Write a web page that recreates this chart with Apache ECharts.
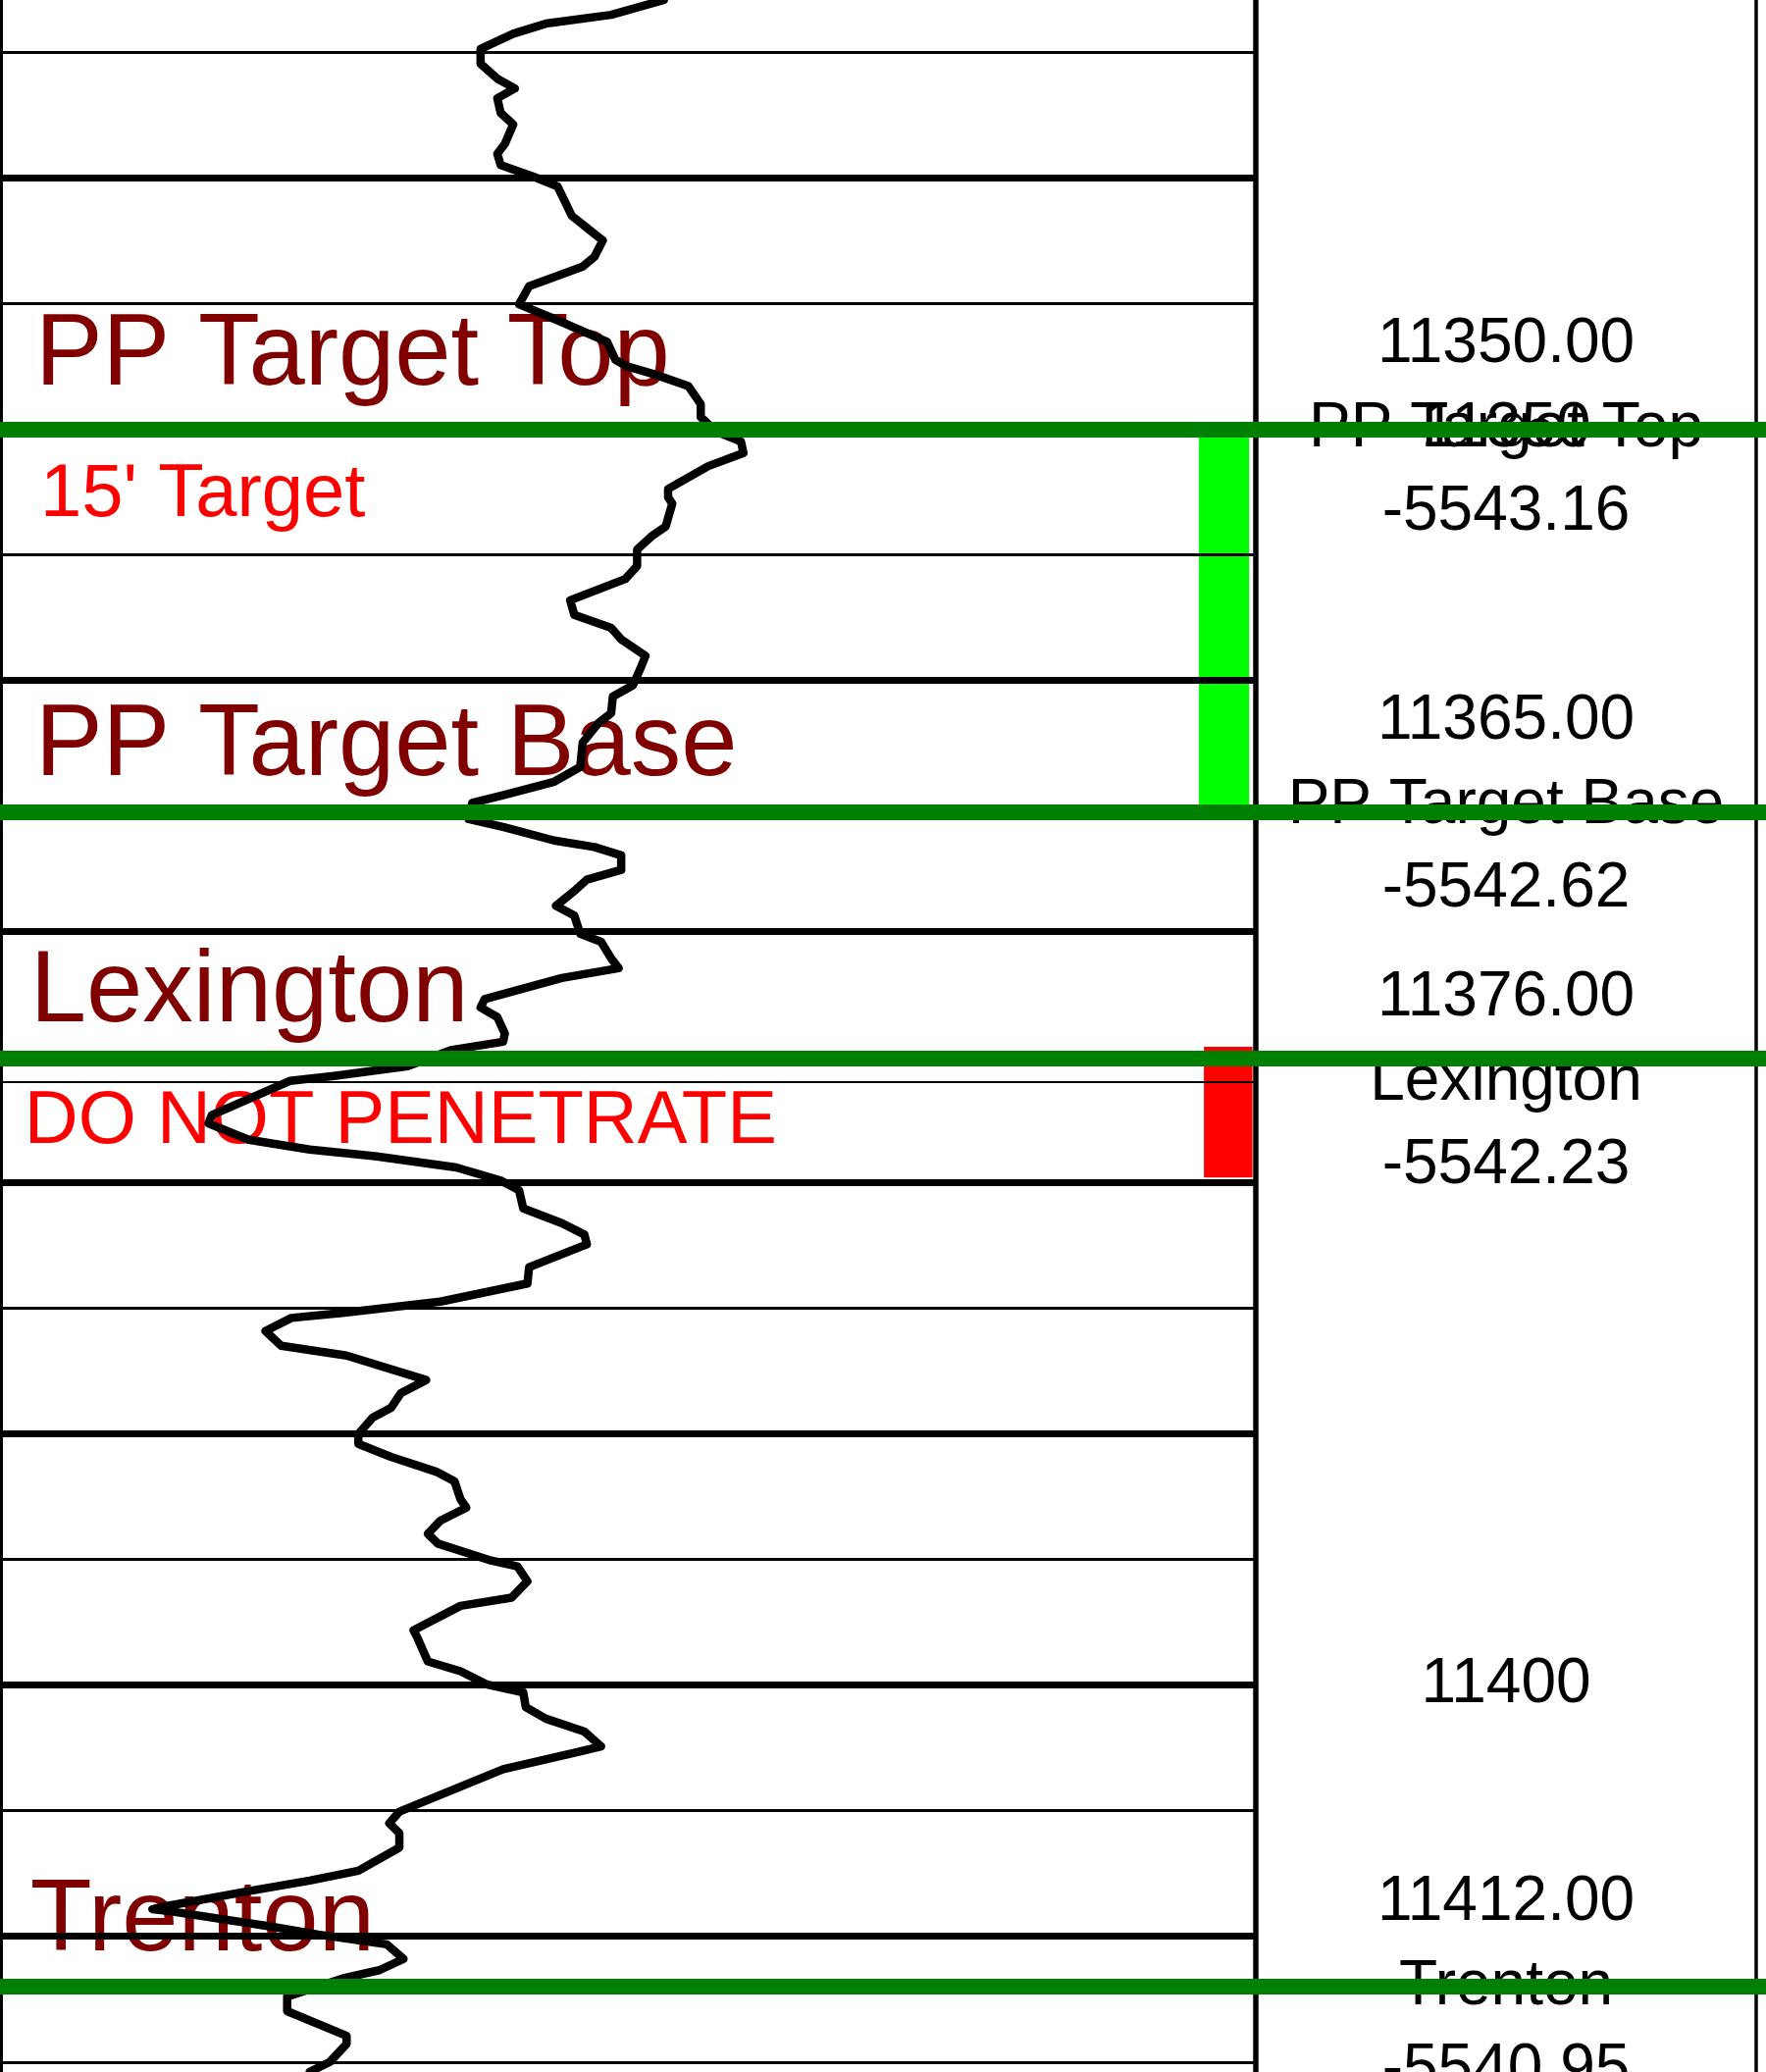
<!DOCTYPE html>
<html>
<head>
<meta charset="utf-8">
<script src="https://cdn.jsdelivr.net/npm/echarts@6/dist/echarts.min.js"></script>
<style>
  html, body { margin: 0; padding: 0; background: #fff; }
  #log { width: 1800px; height: 2112px; }
</style>
</head>
<body>
<div id="log"></div>
<script>
// gamma ray curve (depth in ft MD, value in API)
const curveDepth = [
  11332.94, 11333.53, 11333.88, 11334.28, 11334.89, 11335.48, 11336.07, 11336.46, 11336.85, 11337.43,
  11337.89, 11338.67, 11339.06, 11339.51, 11339.97, 11340.36, 11341.53, 11342.51, 11343.16, 11343.55,
  11344.33, 11345.05, 11345.63, 11346.54, 11347.26, 11347.52, 11347.85, 11348.30, 11349.02, 11349.54,
  11350.12, 11350.51, 11350.97, 11351.49, 11352.40, 11352.73, 11352.98, 11353.90, 11354.29, 11354.81,
  11355.46, 11355.98, 11356.83, 11357.41, 11357.93, 11358.39, 11359.04, 11359.62, 11360.21, 11360.66,
  11361.32, 11361.71, 11362.49, 11363.46, 11364.05, 11364.57, 11364.89, 11365.54, 11365.87, 11366.39,
  11366.65, 11366.98, 11367.56, 11367.95, 11368.34, 11368.99, 11369.38, 11370.10, 11370.42, 11371.08,
  11371.47, 11371.86, 11372.70, 11373.03, 11373.42, 11374.07, 11374.40, 11374.72, 11375.37, 11375.76,
  11375.96, 11377.32, 11377.65, 11378.30, 11378.69, 11378.95, 11379.40, 11379.92, 11380.31, 11381.03,
  11381.62, 11382.07, 11382.46, 11383.37, 11384.02, 11384.74, 11385.19, 11385.39, 11385.91, 11386.50,
  11386.89, 11387.86, 11388.38, 11388.97, 11389.36, 11390.01, 11390.40, 11390.92, 11391.51, 11391.90,
  11392.61, 11392.94, 11393.46, 11393.98, 11394.37, 11395.02, 11395.28, 11395.87, 11396.52, 11396.85,
  11397.82, 11398.15, 11399.06, 11399.45, 11399.97, 11400.29, 11400.88, 11401.34, 11401.85, 11402.44,
  11402.70, 11403.35, 11405.04, 11405.50, 11405.89, 11406.47, 11407.39, 11407.78, 11408.17, 11408.82,
  11408.92, 11409.01, 11409.60, 11409.93, 11410.32, 11410.90, 11411.35, 11411.68, 11412.40, 11412.98,
  11413.96, 11414.28, 11415.00, 11415.39
];
const curveGR = [
  79.3, 73.0, 65.2, 61.3, 57.4, 57.4, 59.4, 61.5, 59.4, 59.8,
  61.3, 60.3, 59.4, 59.8, 63.7, 66.6, 68.3, 72.0, 71.0, 69.6,
  63.2, 62.0, 66.2, 72.5, 73.5, 74.9, 78.3, 82.2, 83.7, 83.7,
  85.6, 88.5, 88.8, 84.6, 79.8, 79.8, 80.3, 79.5, 77.8, 76.1,
  76.1, 74.7, 68.1, 68.6, 73.0, 74.2, 77.1, 76.4, 75.6, 73.2,
  73.0, 71.5, 69.6, 69.3, 66.2, 60.3, 56.4, 56.0, 60.3, 66.2,
  71.0, 74.2, 74.2, 70.1, 68.8, 66.4, 68.6, 69.3, 71.8, 73.0,
  73.9, 67.1, 57.9, 57.4, 59.4, 60.3, 60.1, 54.0, 48.7, 39.9,
  34.6, 25.3, 24.9, 29.7, 37.0, 44.8, 54.5, 59.8, 62.0, 62.5,
  67.1, 69.8, 70.1, 63.2, 63.0, 52.6, 40.9, 34.8, 31.7, 33.6,
  41.4, 50.9, 47.9, 46.7, 44.5, 42.8, 42.8, 46.7, 52.1, 54.3,
  55.0, 55.7, 52.6, 51.1, 52.3, 58.4, 61.8, 63.0, 61.1, 55.0,
  49.4, 49.9, 51.1, 55.0, 58.1, 62.5, 62.8, 65.2, 69.8, 71.8,
  68.6, 60.1, 47.7, 46.5, 47.7, 47.7, 42.8, 37.0, 30.2, 19.5,
  18.2, 20.5, 32.2, 38.0, 46.2, 48.2, 45.3, 40.9, 34.3, 34.3,
  41.4, 41.4, 39.4, 37.0
];

// depth grid
const thinDepths = [11335, 11345, 11355, 11365, 11375, 11385, 11395, 11405, 11415];
const thickDepths = [11340, 11350, 11360, 11370, 11380, 11390, 11400, 11410];
const depthTicks = [11350, 11400];

// formation tops
const topNames = ['PP Target Top', 'PP Target Base', 'Lexington', 'Trenton'];
const topMD = [11350, 11365, 11376, 11412];
const topSubsea = [-5543.16, -5542.62, -5542.23, -5540.95];
const topLineDepth = [11350.04, 11365.25, 11375.04, 11412.0];

// zones
const zoneNames = ["15' Target", 'DO NOT PENETRATE'];
const zoneTop = [11350, 11374.6];
const zoneBase = [11365.25, 11379.8];
const zoneColor = ['#00ff00', '#ff0000'];

// annotation text in the curve track
const noteText = ['PP Target Top', "15' Target", 'PP Target Base', 'Lexington', 'DO NOT PENETRATE', 'Trenton'];
const noteDepth = [11347.13, 11352.65, 11362.67, 11372.47, 11377.62, 11409.44];

// layout / style
const FONT = 'Liberation Sans, Arial, sans-serif';
const D_MIN = 11332.94, D_MAX = 11415.40;
const GR_MAX = 150;
const NOTE_X = [4.15, 4.75, 4.15, 3.55, 2.85, 3.55];
const NOTE_BIG = [true, false, true, true, false, true];
const ZONE_X = [[143.2, 149.2], [143.8, 149.6]];
const CLEAR = 'rgba(0,0,0,0)';

let chart = echarts.init(document.getElementById('log'));

function depthAxis(gridIndex) {
  return {
    type: 'value', gridIndex: gridIndex, inverse: true, min: D_MIN, max: D_MAX,
    show: false, splitLine: {show: false}
  };
}

// plain marker lines drawn through a dummy series
function rules(axisIdx, items, width, z, color) {
  return {
    type: 'line', xAxisIndex: axisIdx, yAxisIndex: axisIdx, data: [], z: z, silent: true,
    markLine: {
      silent: true, symbol: ['none', 'none'], animation: false,
      label: {show: false},
      lineStyle: {color: color || '#000', width: width, type: 'solid', opacity: 1},
      emphasis: {disabled: true},
      data: items
    }
  };
}
const atDepth = arr => arr.map(d => ({yAxis: d}));

let curveData = curveDepth.map((d, i) => [curveGR[i], d]);

let zoneAreas = zoneNames.map((n, i) => [
  {name: n, xAxis: ZONE_X[i][0], yAxis: zoneTop[i], itemStyle: {color: zoneColor[i], opacity: 1}},
  {xAxis: ZONE_X[i][1], yAxis: zoneBase[i]}
]);

let notes = noteText.map((t, i) => ({
  value: [NOTE_X[i], noteDepth[i]],
  label: {
    formatter: t,
    fontSize: NOTE_BIG[i] ? 103 : 76,
    color: NOTE_BIG[i] ? '#800000' : '#ff0000'
  }
}));

let topLabels = topNames.map((n, i) => ({
  value: [0.5, topMD[i]],
  label: {formatter: topMD[i].toFixed(2) + '\n' + n + '\n' + topSubsea[i].toFixed(2)}
}));

let tickLabels = depthTicks.map(d => ({value: [0.5, d], label: {formatter: String(d)}}));

let option = {
  animation: false,
  backgroundColor: '#fff',
  grid: [
    {left: 0, top: 0, width: 1280, bottom: 0, show: false},
    {left: 1280, top: 0, width: 510, bottom: 0, show: false},
    {left: 0, top: 0, right: 0, bottom: 0, show: false}
  ],
  xAxis: [
    {type: 'value', gridIndex: 0, min: 0, max: GR_MAX, show: false, splitLine: {show: false}},
    {type: 'value', gridIndex: 1, min: 0, max: 1, show: false, splitLine: {show: false}},
    {type: 'value', gridIndex: 2, min: 0, max: 1, show: false, splitLine: {show: false}}
  ],
  yAxis: [depthAxis(0), depthAxis(1), depthAxis(2)],
  series: [
    rules(0, atDepth(thinDepths), 3, 1),
    rules(0, atDepth(thickDepths), 7, 1),
    rules(0, atDepth(topMD), 2, 1),
    // track borders
    rules(0, [{xAxis: 0}], 6, 1),
    rules(0, [{xAxis: GR_MAX}], 5.5, 1),
    rules(1, [{xAxis: 1}], 3.5, 1),
    {
      type: 'line', xAxisIndex: 0, yAxisIndex: 0, data: [], z: 2, silent: true,
      markArea: {silent: true, label: {show: false}, data: zoneAreas}
    },
    {
      type: 'scatter', xAxisIndex: 0, yAxisIndex: 0, z: 3, silent: true,
      symbolSize: 1, itemStyle: {color: CLEAR, opacity: 1},
      label: {show: true, position: 'right', distance: 0, fontFamily: FONT},
      data: notes
    },
    {
      type: 'line', xAxisIndex: 0, yAxisIndex: 0, z: 4, silent: true,
      showSymbol: false, symbol: 'none',
      lineStyle: {color: '#000', width: 8.5, opacity: 1, join: 'round', cap: 'round'},
      data: curveData
    },
    {
      type: 'scatter', xAxisIndex: 1, yAxisIndex: 1, z: 3, silent: true,
      symbolSize: 1, itemStyle: {color: CLEAR, opacity: 1},
      label: {show: true, position: 'inside', align: 'center', verticalAlign: 'middle',
        fontFamily: FONT, fontSize: 64, lineHeight: 85.5, color: '#000'},
      data: topLabels.concat(tickLabels)
    },
    rules(2, atDepth(topLineDepth), 16, 10, '#008000')
  ]
};
chart.setOption(option);
</script>
</body>
</html>
